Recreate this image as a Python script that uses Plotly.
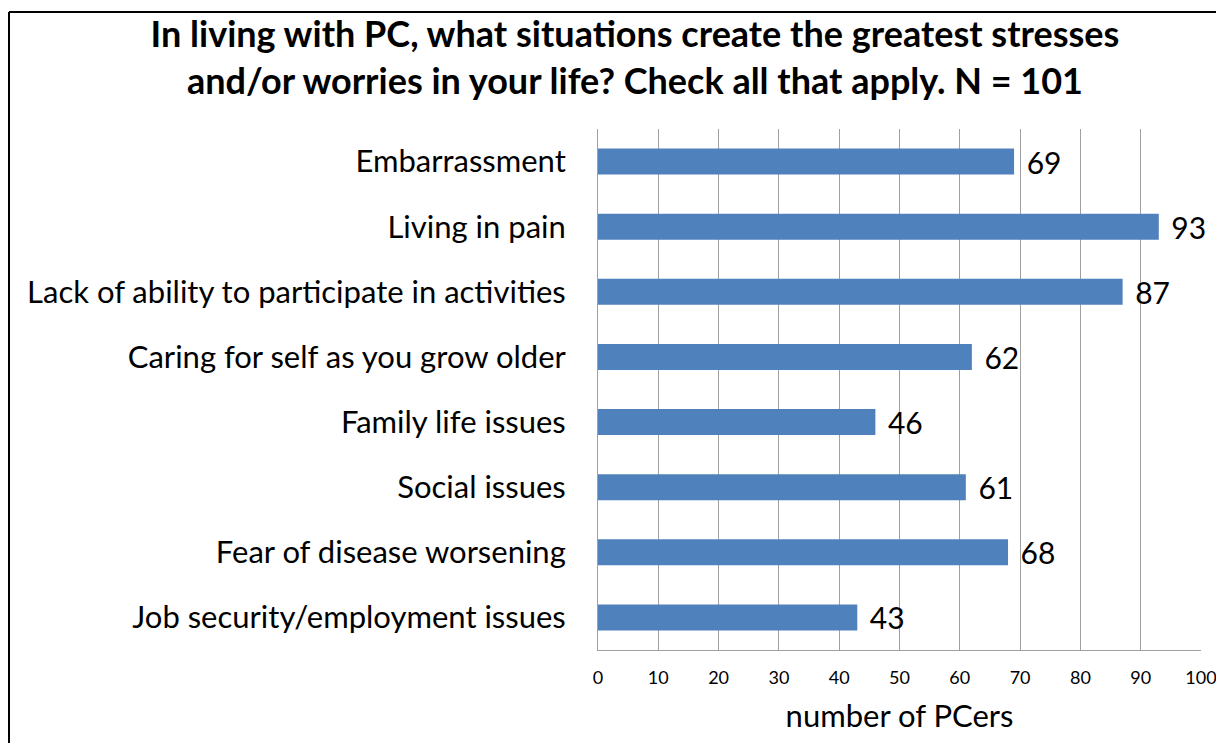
import plotly.graph_objects as go

categories = [
    "Embarrassment",
    "Living in pain",
    "Lack of ability to participate in activities",
    "Caring for self as you grow older",
    "Family life issues",
    "Social issues",
    "Fear of disease worsening",
    "Job security/employment issues",
]
values = [69, 93, 87, 62, 46, 61, 68, 43]
tick_vals = [0, 10, 20, 30, 40, 50, 60, 70, 80, 90, 100]

FONT = "Lato"

fig = go.Figure(
    go.Bar(
        x=values,
        y=categories,
        orientation="h",
        marker=dict(color="#4F81BD", line=dict(width=0)),
        texttemplate="\u00a0\u200a%{x}",
        textposition="outside",
        textfont=dict(family=FONT, size=30, color="#000000"),
        constraintext="none",
        cliponaxis=False,
        hoverinfo="skip",
    )
)

W, H = 1216, 743
ml, mr, mt, mb = 598, 15, 129, 93
pw = W - ml - mr
ph = H - mt - mb

def px_to_paper_x(px):
    return (px - ml) / pw

def px_to_paper_y(py):
    return (H - mb - py) / ph

fig.update_layout(
    width=W,
    height=H,
    margin=dict(l=ml, r=mr, t=mt, b=mb, pad=0, autoexpand=False),
    paper_bgcolor="white",
    plot_bgcolor="white",
    bargap=0.6,
    showlegend=False,
    title=dict(
        text="In living with PC, what situations create the greatest stresses<br>and/or worries in your life? Check all that apply. N = 101",
        font=dict(family=FONT, size=36, color="#000000", weight="bold"),
        x=px_to_paper_x(635),
        xref="paper",
        xanchor="center",
        y=1 - 47 / H,
        yanchor="middle",
    ),
    xaxis=dict(
        range=[0, 100],
        tickvals=tick_vals,
        ticktext=[str(v) for v in tick_vals],
        showgrid=True,
        gridcolor="#A0A0A0",
        gridwidth=1,
        showline=True,
        linecolor="#A0A0A0",
        linewidth=1,
        ticks="",
        tickfont=dict(family=FONT, size=18, color="#000000"),
        ticklabelstandoff=11,
        ticklabeloverflow="allow",
        automargin=False,
        title=dict(text="number of PCers", font=dict(family=FONT, size=31, color="#000000"), standoff=18),
        zeroline=False,
        fixedrange=True,
    ),
    yaxis=dict(
        autorange="reversed",
        showline=True,
        linecolor="#A0A0A0",
        linewidth=1,
        showgrid=False,
        ticks="",
        tickfont=dict(family=FONT, size=31, color="#000000"),
        ticklabelstandoff=25,
        automargin=False,
        fixedrange=True,
    ),
    shapes=[
        dict(
            type="line", xref="paper", yref="paper",
            x0=px_to_paper_x(9), x1=px_to_paper_x(9),
            y0=px_to_paper_y(12), y1=px_to_paper_y(760),
            line=dict(color="#000000", width=2),
        ),
        dict(
            type="line", xref="paper", yref="paper",
            x0=px_to_paper_x(9), x1=px_to_paper_x(1230),
            y0=px_to_paper_y(12), y1=px_to_paper_y(12),
            line=dict(color="#000000", width=2),
        ),
    ],
)

fig.write_html(
    "out.html",
    config={"displayModeBar": False},
    post_script="document.body.style.margin='0';document.body.style.overflow='hidden';",
)
